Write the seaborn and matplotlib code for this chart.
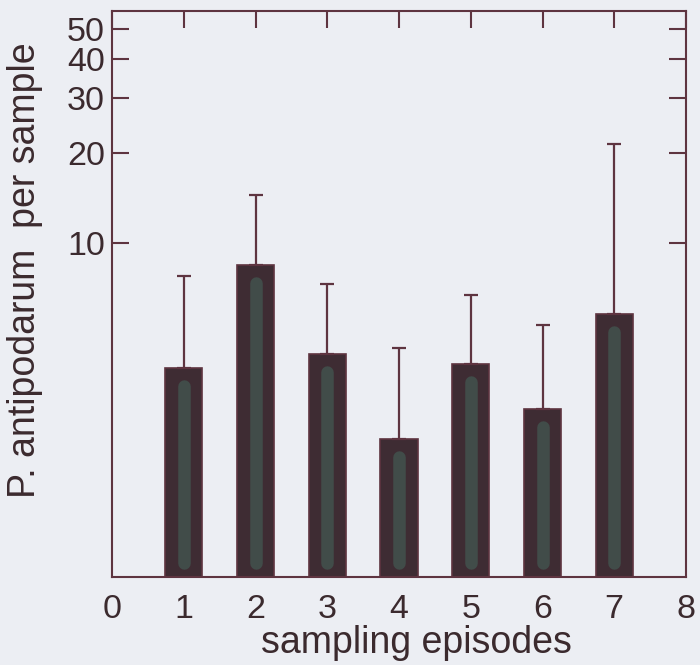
import numpy as np
import matplotlib
matplotlib.use("Agg")
import matplotlib.pyplot as plt
import seaborn as sns

# values (counts per sample, axis is log10(n+1))
episodes = [1, 2, 3, 4, 5, 6, 7]
means = [3.48, 8.40, 3.96, 1.70, 3.61, 2.33, 5.62]
upper = [7.66, 14.5, 7.18, 4.19, 6.57, 5.11, 21.4]
y_ticks = [10, 20, 30, 40, 50]
x_ticks = [0, 1, 2, 3, 4, 5, 6, 7, 8]

BG = "#eceef3"
INK = "#3b2a2e"
EDGE = "#5e3440"
BAR = "#3e2c33"
STRIPE = "#414c49"

sns.set_theme(style="white")
plt.rcParams["font.family"] = ["Liberation Sans", "DejaVu Sans"]
plt.rcParams["text.color"] = INK
plt.rcParams["axes.labelcolor"] = INK
plt.rcParams["xtick.color"] = EDGE
plt.rcParams["ytick.color"] = EDGE
plt.rcParams["xtick.labelcolor"] = INK
plt.rcParams["ytick.labelcolor"] = INK


def fwd(v):
    return np.log10(np.clip(v, 0, None) + 1)


def inv(v):
    return 10 ** v - 1


fig = plt.figure(figsize=(7, 6.65), dpi=100, facecolor=BG)
ax = fig.add_axes([0.16, 0.1323, 0.82, 0.851])
ax.set_facecolor(BG)

sns.barplot(x=episodes, y=means, native_scale=True, width=0.52,
            color=BAR, saturation=1, edgecolor=EDGE, linewidth=1.2, ax=ax)

err_up = np.array(upper) - np.array(means)
ax.errorbar(episodes, means, yerr=[np.zeros(len(means)), err_up], fmt="none",
            ecolor=EDGE, elinewidth=1.6, capsize=5, capthick=1.6, zorder=1)

ax.set_yscale("function", functions=(fwd, inv))
ax.set_ylim(0, 57)
ax.set_xlim(0, 8)

# soft highlight stripe inside each bar
fig.canvas.draw()
to_disp = ax.transData
to_data = ax.transData.inverted()
for x, m in zip(episodes, means):
    (xb, yb), (_, yt) = to_disp.transform([(x, 0), (x, m)])
    p = to_data.transform([(xb, yb + 14), (xb, yt - 18)])
    ax.plot(p[:, 0], p[:, 1], color=STRIPE, lw=9, solid_capstyle="round", zorder=3)

ax.set_yticks(y_ticks)
ax.set_yticklabels([str(t) for t in y_ticks])
ax.minorticks_off()
ax.set_xticks(x_ticks)
ax.set_xticklabels([str(t) for t in x_ticks])

ax.tick_params(axis="y", direction="in", length=12, width=1.5, left=True, right=True,
               labelsize=24.5, pad=5)
ax.tick_params(axis="x", direction="in", length=12, width=1.5, bottom=False, top=True,
               labelsize=24.5, pad=12)
for s in ax.spines.values():
    s.set_color(EDGE)
    s.set_linewidth(1.5)

ax.set_xlabel("sampling episodes", fontsize=27, labelpad=2)
ax.xaxis.set_label_coords(0.531, -0.085)
ax.set_ylabel("P. antipodarum  per sample", fontsize=27)
ax.yaxis.set_label_coords(-0.12, 0.542)

fig.savefig("out.png", dpi=100, facecolor=BG)
